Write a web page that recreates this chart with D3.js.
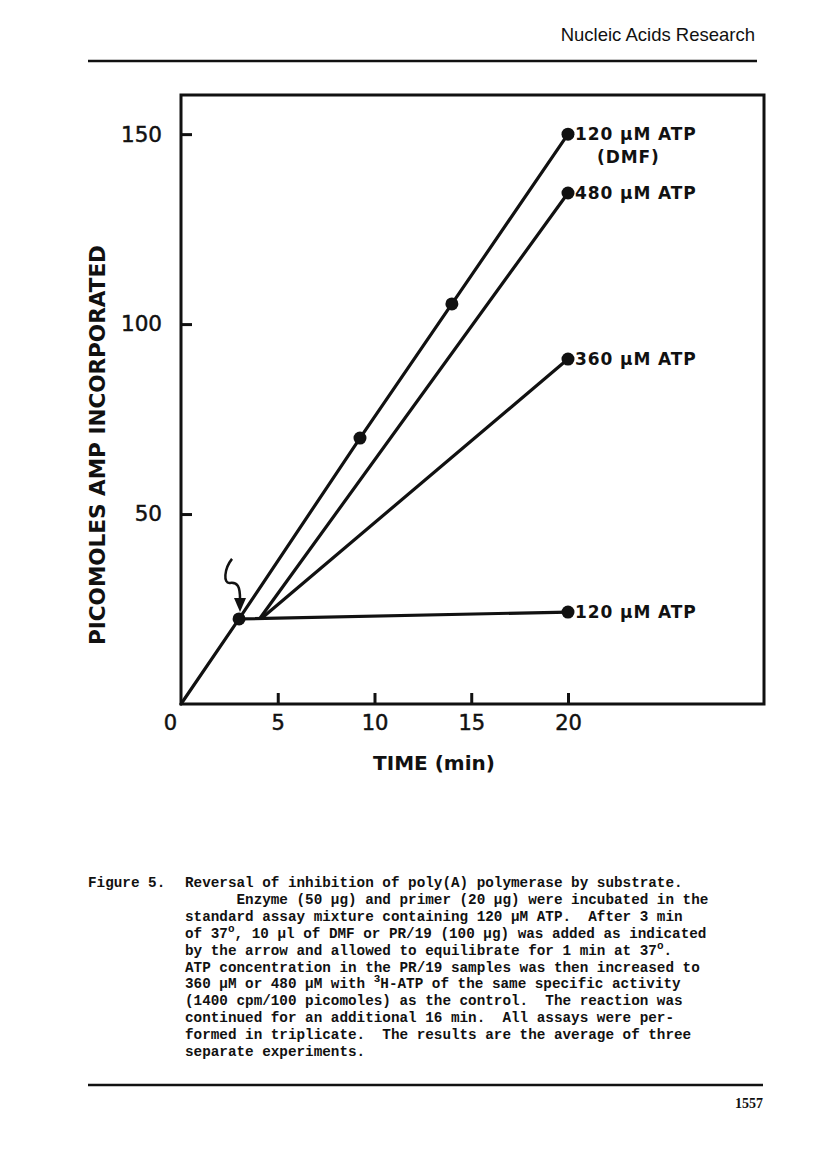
<!DOCTYPE html>
<html><head><meta charset="utf-8">
<script src="https://cdn.jsdelivr.net/npm/d3@7"></script>
<style>body{margin:0;background:#fff}svg{display:block}</style>
</head><body>
<script>
// ---- data ----
const controlDMF = [[0,0],[3,22.4],[9.25,70],[14,105.3],[20,150]];
const atp120 = [[3,22.4],[20,24.2]];
const atp480 = [[4.1,22.7],[20,134.5]];
const atp360 = [[4.2,22.7],[20,90.8]];
const xTicks = [0,5,10,15,20];
const yTicks = [50,100,150];
const seriesLabels = [
  {pt:[20,150], lines:["120 µM ATP","(DMF)"]},
  {pt:[20,134.5], lines:["480  µM ATP"]},
  {pt:[20,90.8], lines:["360 µM ATP"]},
  {pt:[20,24.2], lines:["120  µM ATP"]}
];
const captionLines = [
  "Reversal of inhibition of poly(A) polymerase by substrate.",
  "      Enzyme (50 µg) and primer (20 µg) were incubated in the",
  "standard assay mixture containing 120 µM ATP.  After 3 min",
  "of 37^o, 10 µl of DMF or PR/19 (100 µg) was added as indicated",
  "by the arrow and allowed to equilibrate for 1 min at 37^o.",
  "ATP concentration in the PR/19 samples was then increased to",
  "360 µM or 480 µM with ^3H-ATP of the same specific activity",
  "(1400 cpm/100 picomoles) as the control.  The reaction was",
  "continued for an additional 16 min.  All assays were per-",
  "formed in triplicate.  The results are the average of three",
  "separate experiments."
];

const W=816,H=1172;
const svg=d3.select("body").append("svg").attr("width",W).attr("height",H);
const x=d3.scaleLinear().domain([0,30.13]).range([181,764]);
const y=d3.scaleLinear().domain([0,160.3]).range([704,95]);
const chartFont="'DejaVu Sans', sans-serif";

// header
svg.append("text").attr("x",755).attr("y",41).attr("text-anchor","end")
  .attr("font-family","'Liberation Sans', Arial, sans-serif").attr("font-size",18.5).attr("fill","#111")
  .text("Nucleic Acids Research");
svg.append("line").attr("x1",88).attr("x2",757).attr("y1",61).attr("y2",61).attr("stroke","#111").attr("stroke-width",2.5);

// frame
svg.append("rect").attr("x",x(0)).attr("y",y(160.3)).attr("width",x(30.13)-x(0)).attr("height",y(0)-y(160.3))
  .attr("fill","none").attr("stroke","#111").attr("stroke-width",3);

// axes
const gx=svg.append("g").attr("transform",`translate(0,${y(0)})`)
  .call(d3.axisBottom(x).tickValues(xTicks).tickSize(-11).tickPadding(6).tickFormat(d3.format("d")));
gx.select(".domain").remove();
gx.selectAll(".tick line").attr("stroke","#111").attr("stroke-width",3).filter(d=>d===0).remove();
gx.selectAll(".tick text").attr("font-family",chartFont).attr("font-size",21).attr("fill","#111")
  .attr("stroke","#111").attr("stroke-width",0.5)
  .attr("dy","0.95em").attr("dx",d=>d===0?-11:0);

const gy=svg.append("g").attr("transform",`translate(${x(0)},0)`)
  .call(d3.axisLeft(y).tickValues(yTicks).tickSize(-11).tickPadding(19).tickFormat(d3.format("d")));
gy.select(".domain").remove();
gy.selectAll(".tick line").attr("stroke","#111").attr("stroke-width",3);
gy.selectAll(".tick text").attr("font-family",chartFont).attr("font-size",21.5).attr("fill","#111")
  .attr("stroke","#111").attr("stroke-width",0.5);

// axis titles
svg.append("text").attr("x",434).attr("y",770).attr("text-anchor","middle")
  .attr("font-family",chartFont).attr("font-size",20).attr("font-weight","bold").attr("fill","#111")
  .text("TIME (min)");
svg.append("text").attr("transform","translate(105,445) rotate(-90)").attr("text-anchor","middle")
  .attr("font-family",chartFont).attr("font-size",22).attr("font-weight","bold").attr("fill","#111")
  .attr("textLength",400).attr("lengthAdjust","spacingAndGlyphs")
  .text("PICOMOLES  AMP  INCORPORATED");

// lines
const line=d3.line().x(d=>x(d[0])).y(d=>y(d[1]));
[controlDMF,atp120,atp480,atp360].forEach(s=>{
  svg.append("path").attr("d",line(s)).attr("fill","none").attr("stroke","#111").attr("stroke-width",3.2).attr("stroke-linecap","round");
});
// points
const pts=[controlDMF[1],controlDMF[2],controlDMF[3],controlDMF[4],atp480[1],atp360[1],atp120[1]];
svg.selectAll("circle.pt").data(pts).enter().append("circle").attr("class","pt")
  .attr("cx",d=>x(d[0])).attr("cy",d=>y(d[1])).attr("r",6.5).attr("fill","#111");

// series labels
seriesLabels.forEach(l=>{
  const t=svg.append("text").attr("font-family",chartFont).attr("font-size",17).attr("font-weight","bold")
    .attr("letter-spacing",0.9).attr("fill","#111");
  l.lines.forEach((s,i)=>{
    t.append("tspan").attr("x",x(l.pt[0])+(i===0?7:29)).attr("y",y(l.pt[1])+6+i*23).text(s);
  });
});

// arrow
const ax=x(3.05), ay=y(22.4);
svg.append("path").attr("d",`M${ax-8},${ay-60} C${ax-16},${ay-50} ${ax-17},${ay-35} ${ax-10},${ay-36} C${ax-2},${ay-37} ${ax},${ay-32} ${ax},${ay-20}`)
  .attr("fill","none").attr("stroke","#111").attr("stroke-width",2.5);
svg.append("path").attr("d",`M${ax-6},${ay-21} L${ax+6},${ay-21} L${ax},${ay-7} Z`).attr("fill","#111");

// caption
const cap=svg.append("g").attr("font-family","'Liberation Mono', 'DejaVu Sans Mono', monospace").attr("font-size",14.3).attr("font-weight","bold").attr("fill","#111");
cap.append("text").attr("x",88).attr("y",887).text("Figure 5.");
captionLines.forEach((s,i)=>{
  const t=cap.append("text").attr("x",185).attr("y",887+i*16.9).attr("xml:space","preserve");
  const parts=s.split(/(\^\w)/);
  let prevSup=false;
  parts.forEach(p=>{
    if(p.startsWith("^")){ t.append("tspan").attr("dy",-6).attr("font-size",11).text(p.slice(1)); prevSup=true; }
    else if(p.length){ t.append("tspan").attr("dy",prevSup?6:0).text(p); prevSup=false; }
  });
});

// footer
svg.append("line").attr("x1",88).attr("x2",763).attr("y1",1085).attr("y2",1085).attr("stroke","#111").attr("stroke-width",2.5);
svg.append("text").attr("x",763).attr("y",1108).attr("text-anchor","end")
  .attr("font-family","'Liberation Serif', serif").attr("font-weight","bold").attr("font-size",14).attr("fill","#111").text("1557");
</script>
</body></html>
